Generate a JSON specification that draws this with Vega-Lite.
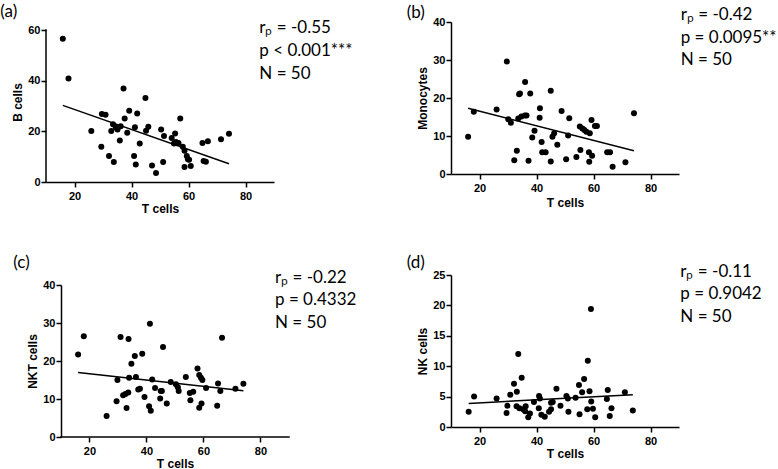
{
  "$schema": "https://vega.github.io/schema/vega-lite/v6.json",
  "padding": {"top": 2, "left": 0, "right": 0, "bottom": 0},
  "background": "white",
  "datasets": {
    "notes": [
      {"panel": "a", "letter": "(a)", "stats": "rₚ = -0.55\np < 0.001***\nN = 50"},
      {"panel": "b", "letter": "(b)", "stats": "rₚ = -0.42\np = 0.0095**\nN = 50"},
      {"panel": "c", "letter": "(c)", "stats": "rₚ = -0.22\np = 0.4332\nN = 50"},
      {"panel": "d", "letter": "(d)", "stats": "rₚ = -0.11\np = 0.9042\nN = 50"}
    ],
    "a": [
      {"t": 15.9, "y": 56.5}, {"t": 17.9, "y": 40.9}, {"t": 25.9, "y": 20.1}, {"t": 29.6, "y": 26.8}, {"t": 30.9, "y": 26.5},
      {"t": 29.4, "y": 13.9}, {"t": 32.1, "y": 10.3}, {"t": 33.8, "y": 7.9}, {"t": 33.5, "y": 22.8}, {"t": 32.9, "y": 20.1},
      {"t": 34.5, "y": 21.5}, {"t": 35.1, "y": 20.7}, {"t": 36.2, "y": 22.0}, {"t": 35.9, "y": 16.4}, {"t": 37.2, "y": 36.9},
      {"t": 37.6, "y": 25.1}, {"t": 38.5, "y": 19.4}, {"t": 39.2, "y": 28.1}, {"t": 42.0, "y": 27.0}, {"t": 41.2, "y": 21.6},
      {"t": 40.9, "y": 10.3}, {"t": 41.5, "y": 6.9}, {"t": 42.9, "y": 15.2}, {"t": 44.9, "y": 33.2}, {"t": 45.9, "y": 21.8},
      {"t": 45.1, "y": 20.2}, {"t": 47.2, "y": 6.5}, {"t": 48.6, "y": 3.6}, {"t": 50.4, "y": 20.7}, {"t": 51.4, "y": 18.2},
      {"t": 51.1, "y": 7.9}, {"t": 54.1, "y": 17.4}, {"t": 55.3, "y": 19.1}, {"t": 54.9, "y": 15.2}, {"t": 57.1, "y": 25.1},
      {"t": 55.6, "y": 15.8}, {"t": 56.5, "y": 15.4}, {"t": 58.0, "y": 13.9}, {"t": 58.6, "y": 12.3}, {"t": 59.4, "y": 10.3},
      {"t": 59.8, "y": 9.0}, {"t": 58.6, "y": 5.9}, {"t": 60.8, "y": 6.3}, {"t": 64.9, "y": 15.4}, {"t": 66.8, "y": 16.1},
      {"t": 65.3, "y": 8.3}, {"t": 66.1, "y": 8.0}, {"t": 71.4, "y": 16.9}, {"t": 74.2, "y": 19.0}, {"t": 60.2, "y": 8.8}
    ],
    "b": [
      {"t": 16.0, "y": 9.8}, {"t": 18.0, "y": 16.4}, {"t": 26.0, "y": 17.0}, {"t": 29.6, "y": 29.6}, {"t": 30.1, "y": 14.4},
      {"t": 31.0, "y": 13.5}, {"t": 32.2, "y": 3.6}, {"t": 33.1, "y": 6.1}, {"t": 33.9, "y": 21.0}, {"t": 34.2, "y": 21.2},
      {"t": 33.6, "y": 14.6}, {"t": 34.7, "y": 15.1}, {"t": 35.9, "y": 15.4}, {"t": 36.5, "y": 15.4}, {"t": 36.0, "y": 24.2},
      {"t": 37.2, "y": 3.5}, {"t": 37.8, "y": 21.2}, {"t": 38.5, "y": 9.6}, {"t": 39.3, "y": 11.4}, {"t": 41.2, "y": 17.3},
      {"t": 41.1, "y": 14.8}, {"t": 41.8, "y": 8.4}, {"t": 42.0, "y": 5.7}, {"t": 43.2, "y": 5.7}, {"t": 45.0, "y": 21.9},
      {"t": 45.0, "y": 3.3}, {"t": 45.6, "y": 9.8}, {"t": 46.2, "y": 10.7}, {"t": 47.3, "y": 7.7}, {"t": 48.8, "y": 16.6},
      {"t": 50.4, "y": 3.9}, {"t": 51.1, "y": 10.1}, {"t": 51.5, "y": 14.7}, {"t": 54.0, "y": 4.5}, {"t": 55.4, "y": 6.3},
      {"t": 55.2, "y": 12.5}, {"t": 56.1, "y": 12.0}, {"t": 56.8, "y": 11.6}, {"t": 57.5, "y": 11.1}, {"t": 58.7, "y": 10.7},
      {"t": 59.3, "y": 14.2}, {"t": 58.4, "y": 5.7}, {"t": 58.5, "y": 3.2}, {"t": 59.5, "y": 4.8}, {"t": 60.5, "y": 12.6},
      {"t": 61.2, "y": 12.6}, {"t": 64.8, "y": 5.7}, {"t": 65.8, "y": 5.7}, {"t": 66.7, "y": 1.9}, {"t": 71.2, "y": 3.1},
      {"t": 74.2, "y": 16.0}
    ],
    "c": [
      {"t": 16.0, "y": 21.7}, {"t": 18.0, "y": 26.5}, {"t": 26.0, "y": 5.5}, {"t": 29.5, "y": 9.4}, {"t": 29.8, "y": 15.0},
      {"t": 30.9, "y": 26.3}, {"t": 31.8, "y": 11.0}, {"t": 33.0, "y": 7.6}, {"t": 32.6, "y": 11.3}, {"t": 33.6, "y": 11.7},
      {"t": 33.7, "y": 25.8}, {"t": 33.9, "y": 15.6}, {"t": 34.7, "y": 19.3}, {"t": 35.9, "y": 21.3}, {"t": 36.3, "y": 15.8},
      {"t": 37.1, "y": 12.5}, {"t": 37.7, "y": 12.7}, {"t": 38.5, "y": 21.9}, {"t": 39.3, "y": 10.5}, {"t": 41.2, "y": 29.8},
      {"t": 40.9, "y": 8.1}, {"t": 41.5, "y": 6.9}, {"t": 42.0, "y": 15.1}, {"t": 43.0, "y": 12.9}, {"t": 45.0, "y": 12.1},
      {"t": 45.4, "y": 12.1}, {"t": 44.8, "y": 10.1}, {"t": 45.8, "y": 23.7}, {"t": 47.1, "y": 8.8}, {"t": 48.5, "y": 14.5},
      {"t": 50.3, "y": 13.9}, {"t": 51.3, "y": 12.1}, {"t": 51.0, "y": 13.1}, {"t": 53.8, "y": 15.8}, {"t": 55.2, "y": 11.6},
      {"t": 55.4, "y": 9.7}, {"t": 56.4, "y": 11.9}, {"t": 57.9, "y": 18.0}, {"t": 58.5, "y": 16.3}, {"t": 59.1, "y": 15.6},
      {"t": 59.6, "y": 15.0}, {"t": 58.5, "y": 7.7}, {"t": 59.3, "y": 8.8}, {"t": 60.9, "y": 12.9}, {"t": 65.1, "y": 14.1},
      {"t": 65.9, "y": 12.1}, {"t": 64.8, "y": 8.2}, {"t": 66.5, "y": 26.1}, {"t": 71.2, "y": 12.7}, {"t": 74.0, "y": 14.0}
    ],
    "d": [
      {"t": 16.2, "y": 2.5}, {"t": 18.1, "y": 5.0}, {"t": 26.0, "y": 4.7}, {"t": 29.5, "y": 2.3}, {"t": 29.8, "y": 3.5},
      {"t": 30.8, "y": 5.3}, {"t": 32.1, "y": 7.1}, {"t": 33.6, "y": 12.0}, {"t": 33.1, "y": 5.8}, {"t": 33.0, "y": 3.4},
      {"t": 34.0, "y": 3.1}, {"t": 34.8, "y": 8.1}, {"t": 35.3, "y": 2.9}, {"t": 36.2, "y": 3.4}, {"t": 37.1, "y": 1.6},
      {"t": 37.7, "y": 2.2}, {"t": 36.0, "y": 2.6}, {"t": 39.1, "y": 4.1}, {"t": 40.9, "y": 5.1}, {"t": 41.2, "y": 4.7},
      {"t": 40.8, "y": 3.1}, {"t": 41.7, "y": 2.0}, {"t": 42.9, "y": 1.7}, {"t": 45.1, "y": 4.0}, {"t": 45.7, "y": 4.1},
      {"t": 44.4, "y": 2.5}, {"t": 45.1, "y": 2.9}, {"t": 47.0, "y": 6.3}, {"t": 48.4, "y": 3.5}, {"t": 50.5, "y": 5.1},
      {"t": 51.0, "y": 4.7}, {"t": 51.2, "y": 2.5}, {"t": 53.7, "y": 4.8}, {"t": 55.1, "y": 2.1}, {"t": 54.9, "y": 6.9},
      {"t": 56.0, "y": 5.7}, {"t": 56.7, "y": 7.9}, {"t": 58.0, "y": 10.9}, {"t": 58.6, "y": 5.9}, {"t": 57.8, "y": 2.9},
      {"t": 59.2, "y": 4.2}, {"t": 59.1, "y": 19.4}, {"t": 59.8, "y": 3.0}, {"t": 60.6, "y": 1.6}, {"t": 65.0, "y": 6.1},
      {"t": 64.7, "y": 4.6}, {"t": 66.3, "y": 3.1}, {"t": 65.7, "y": 1.8}, {"t": 71.0, "y": 5.7}, {"t": 73.8, "y": 2.7}
    ]
  },
  "concat": [
    {
      "width": 228, "height": 160,
      "layer": [
        {"data": {"name": "a"}, "mark": {"type": "circle", "size": 36, "color": "#000", "opacity": 1},
         "encoding": {
           "x": {"field": "t", "type": "quantitative", "title": "T cells", "scale": {"domain": [10, 90], "nice": false, "zero": false}, "axis": {"values": [20, 40, 60, 80]}},
           "y": {"field": "y", "type": "quantitative", "title": "B cells", "scale": {"domain": [0, 63.158], "nice": false}, "axis": {"values": [0, 20, 40, 60], "domain": false}}}},
        {"data": {"name": "a"}, "transform": [{"regression": "y", "on": "t"}], "mark": {"type": "line", "color": "#000", "strokeWidth": 1.5},
         "encoding": {
           "x": {"field": "t", "type": "quantitative", "title": "T cells", "scale": {"domain": [10, 90], "nice": false, "zero": false}, "axis": {"values": [20, 40, 60, 80]}},
           "y": {"field": "y", "type": "quantitative", "title": "B cells", "scale": {"domain": [0, 63.158], "nice": false}, "axis": {"values": [0, 20, 40, 60], "domain": false}}}},
        {"data": {"name": "notes"}, "transform": [{"filter": "datum.panel == 'a'"}], "mark": {"type": "rule", "color": "#000", "strokeWidth": 1.5, "strokeCap": "square"},
         "encoding": {
           "x": {"datum": 10, "type": "quantitative", "title": "T cells", "scale": {"domain": [10, 90], "nice": false, "zero": false}, "axis": {"values": [20, 40, 60, 80]}},
           "y": {"datum": 0, "type": "quantitative", "title": "B cells", "scale": {"domain": [0, 63.158], "nice": false}, "axis": {"values": [0, 20, 40, 60], "domain": false}},
           "y2": {"datum": 60}}},
        {"data": {"name": "notes"}, "transform": [{"filter": "datum.panel == 'a'"}], "mark": {"type": "text", "align": "left", "baseline": "top"},
         "encoding": {"text": {"field": "letter"},
           "x": {"datum": -6.04, "type": "quantitative", "title": "T cells", "scale": {"domain": [10, 90], "nice": false, "zero": false}, "axis": {"values": [20, 40, 60, 80]}},
           "y": {"datum": 70.38, "type": "quantitative", "title": "B cells", "scale": {"domain": [0, 63.158], "nice": false}, "axis": {"values": [0, 20, 40, 60], "domain": false}}}},
        {"data": {"name": "notes"}, "transform": [{"filter": "datum.panel == 'a'"}], "mark": {"type": "text", "align": "left", "baseline": "alphabetic", "lineBreak": "\n", "lineHeight": 22.75},
         "encoding": {"text": {"field": "stats"},
           "x": {"datum": 84.84, "type": "quantitative", "title": "T cells", "scale": {"domain": [10, 90], "nice": false, "zero": false}, "axis": {"values": [20, 40, 60, 80]}},
           "y": {"datum": 58.74, "type": "quantitative", "title": "B cells", "scale": {"domain": [0, 63.158], "nice": false}, "axis": {"values": [0, 20, 40, 60], "domain": false}}}}
      ]
    },
    {
      "width": 228, "height": 152,
      "layer": [
        {"data": {"name": "b"}, "mark": {"type": "circle", "size": 36, "color": "#000", "opacity": 1},
         "encoding": {
           "x": {"field": "t", "type": "quantitative", "title": "T cells", "scale": {"domain": [10, 90], "nice": false, "zero": false}, "axis": {"values": [20, 40, 60, 80], "titlePadding": 4.5}},
           "y": {"field": "y", "type": "quantitative", "title": "Monocytes", "scale": {"domain": [0, 40], "nice": false}, "axis": {"values": [0, 10, 20, 30, 40]}}}},
        {"data": {"name": "b"}, "transform": [{"regression": "y", "on": "t"}], "mark": {"type": "line", "color": "#000", "strokeWidth": 1.5},
         "encoding": {
           "x": {"field": "t", "type": "quantitative", "title": "T cells", "scale": {"domain": [10, 90], "nice": false, "zero": false}, "axis": {"values": [20, 40, 60, 80], "titlePadding": 4.5}},
           "y": {"field": "y", "type": "quantitative", "title": "Monocytes", "scale": {"domain": [0, 40], "nice": false}, "axis": {"values": [0, 10, 20, 30, 40]}}}},
        {"data": {"name": "notes"}, "transform": [{"filter": "datum.panel == 'b'"}], "mark": {"type": "text", "align": "left", "baseline": "top"},
         "encoding": {"text": {"field": "letter"},
           "x": {"datum": -5.54, "type": "quantitative", "title": "T cells", "scale": {"domain": [10, 90], "nice": false, "zero": false}, "axis": {"values": [20, 40, 60, 80], "titlePadding": 4.5}},
           "y": {"datum": 44.39, "type": "quantitative", "title": "Monocytes", "scale": {"domain": [0, 40], "nice": false}, "axis": {"values": [0, 10, 20, 30, 40]}}}},
        {"data": {"name": "notes"}, "transform": [{"filter": "datum.panel == 'b'"}], "mark": {"type": "text", "align": "left", "baseline": "alphabetic", "lineBreak": "\n", "lineHeight": 22.75},
         "encoding": {"text": {"field": "stats"},
           "x": {"datum": 90.6, "type": "quantitative", "title": "T cells", "scale": {"domain": [10, 90], "nice": false, "zero": false}, "axis": {"values": [20, 40, 60, 80], "titlePadding": 4.5}},
           "y": {"datum": 40.53, "type": "quantitative", "title": "Monocytes", "scale": {"domain": [0, 40], "nice": false}, "axis": {"values": [0, 10, 20, 30, 40]}}}}
      ]
    },
    {
      "width": 243, "height": 152,
      "layer": [
        {"data": {"name": "c"}, "mark": {"type": "circle", "size": 36, "color": "#000", "opacity": 1},
         "encoding": {
           "x": {"field": "t", "type": "quantitative", "title": "T cells", "scale": {"domain": [4.737, 90], "nice": false, "zero": false}, "axis": {"values": [20, 40, 60, 80], "domain": false, "titleX": 129}},
           "y": {"field": "y", "type": "quantitative", "title": "NKT cells", "scale": {"domain": [0, 40], "nice": false}, "axis": {"values": [0, 10, 20, 30, 40], "offset": -15}}}},
        {"data": {"name": "c"}, "transform": [{"regression": "y", "on": "t"}], "mark": {"type": "line", "color": "#000", "strokeWidth": 1.5},
         "encoding": {
           "x": {"field": "t", "type": "quantitative", "title": "T cells", "scale": {"domain": [4.737, 90], "nice": false, "zero": false}, "axis": {"values": [20, 40, 60, 80], "domain": false, "titleX": 129}},
           "y": {"field": "y", "type": "quantitative", "title": "NKT cells", "scale": {"domain": [0, 40], "nice": false}, "axis": {"values": [0, 10, 20, 30, 40], "offset": -15}}}},
        {"data": {"name": "notes"}, "transform": [{"filter": "datum.panel == 'c'"}], "mark": {"type": "rule", "color": "#000", "strokeWidth": 1.5, "strokeCap": "square"},
         "encoding": {
           "x": {"datum": 10, "type": "quantitative", "title": "T cells", "scale": {"domain": [4.737, 90], "nice": false, "zero": false}, "axis": {"values": [20, 40, 60, 80], "domain": false, "titleX": 129}},
           "x2": {"datum": 90},
           "y": {"datum": 0, "type": "quantitative", "title": "NKT cells", "scale": {"domain": [0, 40], "nice": false}, "axis": {"values": [0, 10, 20, 30, 40], "offset": -15}}}},
        {"data": {"name": "notes"}, "transform": [{"filter": "datum.panel == 'c'"}], "mark": {"type": "text", "align": "left", "baseline": "top"},
         "encoding": {"text": {"field": "letter"},
           "x": {"datum": -6.74, "type": "quantitative", "title": "T cells", "scale": {"domain": [4.737, 90], "nice": false, "zero": false}, "axis": {"values": [20, 40, 60, 80], "domain": false, "titleX": 129}},
           "y": {"datum": 47.97, "type": "quantitative", "title": "NKT cells", "scale": {"domain": [0, 40], "nice": false}, "axis": {"values": [0, 10, 20, 30, 40], "offset": -15}}}},
        {"data": {"name": "notes"}, "transform": [{"filter": "datum.panel == 'c'"}], "mark": {"type": "text", "align": "left", "baseline": "alphabetic", "lineBreak": "\n", "lineHeight": 22.75},
         "encoding": {"text": {"field": "stats"},
           "x": {"datum": 85.09, "type": "quantitative", "title": "T cells", "scale": {"domain": [4.737, 90], "nice": false, "zero": false}, "axis": {"values": [20, 40, 60, 80], "domain": false, "titleX": 129}},
           "y": {"datum": 40.61, "type": "quantitative", "title": "NKT cells", "scale": {"domain": [0, 40], "nice": false}, "axis": {"values": [0, 10, 20, 30, 40], "offset": -15}}}}
      ]
    },
    {
      "width": 228, "height": 152,
      "layer": [
        {"data": {"name": "d"}, "mark": {"type": "circle", "size": 36, "color": "#000", "opacity": 1},
         "encoding": {
           "x": {"field": "t", "type": "quantitative", "title": "T cells", "scale": {"domain": [10, 90], "nice": false, "zero": false}, "axis": {"values": [20, 40, 60, 80]}},
           "y": {"field": "y", "type": "quantitative", "title": "NK cells", "scale": {"domain": [0, 25], "nice": false}, "axis": {"values": [0, 5, 10, 15, 20, 25]}}}},
        {"data": {"name": "d"}, "transform": [{"regression": "y", "on": "t"}], "mark": {"type": "line", "color": "#000", "strokeWidth": 1.5},
         "encoding": {
           "x": {"field": "t", "type": "quantitative", "title": "T cells", "scale": {"domain": [10, 90], "nice": false, "zero": false}, "axis": {"values": [20, 40, 60, 80]}},
           "y": {"field": "y", "type": "quantitative", "title": "NK cells", "scale": {"domain": [0, 25], "nice": false}, "axis": {"values": [0, 5, 10, 15, 20, 25]}}}},
        {"data": {"name": "notes"}, "transform": [{"filter": "datum.panel == 'd'"}], "mark": {"type": "text", "align": "left", "baseline": "top"},
         "encoding": {"text": {"field": "letter"},
           "x": {"datum": -5.51, "type": "quantitative", "title": "T cells", "scale": {"domain": [10, 90], "nice": false, "zero": false}, "axis": {"values": [20, 40, 60, 80]}},
           "y": {"datum": 28.34, "type": "quantitative", "title": "NK cells", "scale": {"domain": [0, 25], "nice": false}, "axis": {"values": [0, 5, 10, 15, 20, 25]}}}},
        {"data": {"name": "notes"}, "transform": [{"filter": "datum.panel == 'd'"}], "mark": {"type": "text", "align": "left", "baseline": "alphabetic", "lineBreak": "\n", "lineHeight": 22.75},
         "encoding": {"text": {"field": "stats"},
           "x": {"datum": 90.46, "type": "quantitative", "title": "T cells", "scale": {"domain": [10, 90], "nice": false, "zero": false}, "axis": {"values": [20, 40, 60, 80]}},
           "y": {"datum": 24.72, "type": "quantitative", "title": "NK cells", "scale": {"domain": [0, 25], "nice": false}, "axis": {"values": [0, 5, 10, 15, 20, 25]}}}}
      ]
    }
  ],
  "columns": 2,
  "align": "none",
  "spacing": {"row": 39, "column": 49},
  "config": {
    "view": {"stroke": null},
    "axis": {
      "grid": false,
      "domainColor": "#000", "domainWidth": 1.5,
      "tickColor": "#000", "tickWidth": 1.5, "tickSize": 5,
      "labelFont": "Liberation Sans", "labelFontSize": 11, "labelFontWeight": "bold", "labelColor": "#000", "labelFlush": false, "labelOverlap": false,
      "titleFont": "Liberation Sans", "titleFontSize": 12, "titleFontWeight": "bold", "titleColor": "#000"
    },
    "axisX": {"labelPadding": 3, "titlePadding": 2},
    "axisY": {"labelPadding": 1, "titlePadding": 3},
    "text": {"font": "Lato", "fontSize": 17, "color": "#000"}
  }
}
